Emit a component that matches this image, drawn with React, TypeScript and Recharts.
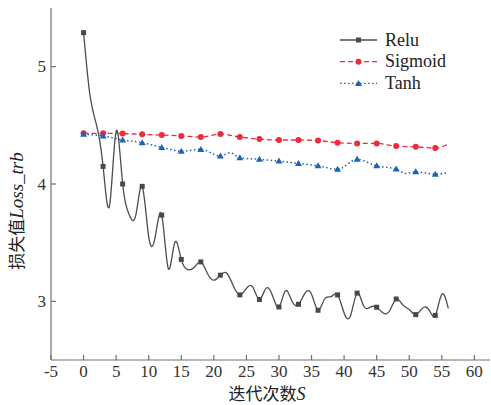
import { LineChart, Line, XAxis, YAxis, Legend, Label } from 'recharts'

const X_TICKS = [-5, 0, 5, 10, 15, 20, 25, 30, 35, 40, 45, 50, 55, 60]
const Y_TICKS = [3, 4, 5]

const RELU_ITER = [
  0, 1, 2, 3, 4, 5, 6, 7, 8, 9, 10, 11, 12, 13, 14, 15, 16, 17, 18, 19, 20, 21, 22, 23, 24, 25, 26, 27, 28,
  29, 30, 31, 32, 33, 34, 35, 36, 37, 38, 39, 40, 41, 42, 43, 44, 45, 46, 47, 48, 49, 50, 51, 52, 53, 54, 55, 56,
]
const RELU_LOSS = [
  5.29, 4.75, 4.5, 4.15, 3.82, 4.45, 4.0, 3.74, 3.73, 3.98, 3.55, 3.55, 3.735, 3.28, 3.5, 3.357, 3.27, 3.29,
  3.336, 3.24, 3.18, 3.223, 3.24, 3.13, 3.055, 3.11, 3.12, 3.016, 3.11, 3.05, 2.952, 3.09, 3.0, 2.975, 3.07,
  3.06, 2.924, 3.02, 3.04, 3.055, 2.9, 2.88, 3.07, 2.96, 2.95, 2.95, 2.9, 2.92, 3.02, 2.97, 2.93, 2.887, 2.94,
  2.93, 2.88, 3.06, 2.94,
]

const SIGMOID_ITER = [0, 3, 6, 9, 12, 15, 18, 21, 24, 27, 30, 33, 36, 39, 42, 45, 48, 51, 54, 56]
const SIGMOID_LOSS = [
  4.432, 4.432, 4.43, 4.423, 4.417, 4.41, 4.4, 4.426, 4.4, 4.383, 4.375, 4.375, 4.37, 4.352, 4.346, 4.346,
  4.323, 4.317, 4.306, 4.34,
]

const TANH_ITER = [0, 3, 6, 9, 12, 15, 18, 21, 22.5, 24, 27, 30, 33, 36, 39, 42, 45, 48, 49.5, 51, 54, 56]
const TANH_LOSS = [
  4.425, 4.41, 4.375, 4.352, 4.312, 4.28, 4.295, 4.238, 4.266, 4.224, 4.21, 4.195, 4.175, 4.155, 4.125, 4.21,
  4.155, 4.127, 4.09, 4.104, 4.084, 4.096,
]

const reluData = RELU_ITER.map((s, i) => ({ s, loss: RELU_LOSS[i] }))
const sigmoidData = SIGMOID_ITER.map((s, i) => ({ s, loss: SIGMOID_LOSS[i] }))
const tanhData = TANH_ITER.map((s, i) => ({ s, loss: TANH_LOSS[i] }))

const AXIS = '#707070'
const SERIF = "'Liberation Serif', serif"
const CJK = "'Noto Sans CJK SC', sans-serif"

const SERIES = [
  { name: 'Relu', color: '#45494d', line: '#4d4d4d', dash: undefined, shape: 'square' },
  { name: 'Sigmoid', color: '#ee2a3c', line: '#ee2a3c', dash: '5 3', shape: 'circle' },
  { name: 'Tanh', color: '#1c63b7', line: '#1c63b7', dash: '1.5 2.5', shape: 'triangle' },
]

const marker = (shape: string, cx: number, cy: number, color: string, key?: any) => {
  if (shape === 'square') return <rect key={key} x={cx - 2.5} y={cy - 2.5} width={5} height={5} fill={color} />
  if (shape === 'circle') return <circle key={key} cx={cx} cy={cy} r={3} fill={color} />
  return <path key={key} d={`M${cx},${cy - 3.5}L${cx + 3.5},${cy + 2.5}L${cx - 3.5},${cy + 2.5}Z`} fill={color} />
}

// markers only every 3rd iteration, like the original plot
const makeDot = (shape: string, color: string) => (props: any) => {
  const { cx, cy, payload, index } = props
  if (payload.s % 3 !== 0 || payload.s > 54) return <g key={`d-${index}`} />
  return marker(shape, cx, cy, color, `d-${index}`)
}

const XTick = (props: any) => {
  const { x, y, payload } = props
  return (
    <g>
      <line x1={x} y1={y} x2={x} y2={y - 5} stroke={AXIS} strokeWidth={1.2} />
      <text x={x} y={y + 17} textAnchor="middle" style={{ fontFamily: SERIF, fontSize: 17 }} fill="#333">
        {payload.value}
      </text>
    </g>
  )
}

const YTick = (props: any) => {
  const { x, y, payload } = props
  return (
    <g>
      <line x1={x} y1={y} x2={x + 5} y2={y} stroke={AXIS} strokeWidth={1.2} />
      <text x={x - 5} y={y + 5.5} textAnchor="end" style={{ fontFamily: SERIF, fontSize: 17 }} fill="#333">
        {payload.value}
      </text>
    </g>
  )
}

const XTitle = (props: any) => {
  const { viewBox } = props
  return (
    <text x={viewBox.x + viewBox.width / 2 - 42} y={viewBox.y + 40} style={{ fontSize: 17 }} fill="#222">
      <tspan style={{ fontFamily: CJK }}>迭代次数</tspan>
      <tspan style={{ fontFamily: SERIF, fontStyle: 'italic', fontSize: 18 }}>S</tspan>
    </text>
  )
}

const YTitle = (props: any) => {
  const { viewBox } = props
  const cy = viewBox.y + viewBox.height / 2 + 27
  return (
    <text x={23} y={cy} transform={`rotate(-90 23 ${cy})`} textAnchor="middle" style={{ fontSize: 17 }} fill="#222">
      <tspan style={{ fontFamily: CJK }}>损失值</tspan>
      <tspan style={{ fontFamily: SERIF, fontStyle: 'italic', fontSize: 19 }}>Loss_trb</tspan>
    </text>
  )
}

const renderLegend = () => (
  <svg width={150} height={70}>
    {SERIES.map((s, i) => (
      <g key={s.name}>
        <line x1={5} x2={42} y1={10 + i * 21.7} y2={10 + i * 21.7} stroke={s.line} strokeWidth={1.3} strokeDasharray={s.dash} />
        {marker(s.shape, 23.5, 10 + i * 21.7, s.color)}
        <text x={50} y={15.5 + i * 21.7} style={{ fontFamily: SERIF, fontSize: 18 }} fill="#222">
          {s.name}
        </text>
      </g>
    ))}
  </svg>
)

export default function App() {
  return (
    <div style={{ position: 'absolute', left: 0, top: 0, background: '#fff', fontFamily: SERIF }}>
      <LineChart width={491} height={405} margin={{ top: 8, right: 1, bottom: 0, left: 0 }}>
        <XAxis
          type="number"
          dataKey="s"
          domain={[-5, 62.4]}
          ticks={X_TICKS}
          allowDuplicatedCategory={false}
          height={45}
          tickSize={0}
          tickMargin={0}
          tickLine={false}
          tick={<XTick />}
          stroke={AXIS}
          strokeWidth={1.2}
          interval={0}
        >
          <Label content={<XTitle />} />
        </XAxis>
        <YAxis
          type="number"
          domain={[2.5, 5.5]}
          ticks={Y_TICKS}
          width={51}
          tickSize={0}
          tickMargin={0}
          tickLine={false}
          tick={<YTick />}
          stroke={AXIS}
          strokeWidth={1.2}
          interval={0}
        >
          <Label content={<YTitle />} />
        </YAxis>
        <Legend
          layout="vertical"
          align="center"
          verticalAlign="middle"
          content={renderLegend}
          wrapperStyle={{ position: 'absolute', left: 335, top: 30, width: 150, height: 70 }}
        />
        <Line
          data={reluData}
          dataKey="loss"
          name="Relu"
          type="natural"
          stroke="#4d4d4d"
          strokeWidth={1.3}
          dot={makeDot('square', '#45494d')}
          activeDot={false}
          isAnimationActive={false}
        />
        <Line
          data={sigmoidData}
          dataKey="loss"
          name="Sigmoid"
          type="monotone"
          stroke="#ee2a3c"
          strokeWidth={1.3}
          strokeDasharray="5 3"
          dot={makeDot('circle', '#ee2a3c')}
          activeDot={false}
          isAnimationActive={false}
        />
        <Line
          data={tanhData}
          dataKey="loss"
          name="Tanh"
          type="monotone"
          stroke="#1c63b7"
          strokeWidth={1.5}
          strokeDasharray="1.5 2.5"
          dot={makeDot('triangle', '#1c63b7')}
          activeDot={false}
          isAnimationActive={false}
        />
      </LineChart>
    </div>
  )
}
